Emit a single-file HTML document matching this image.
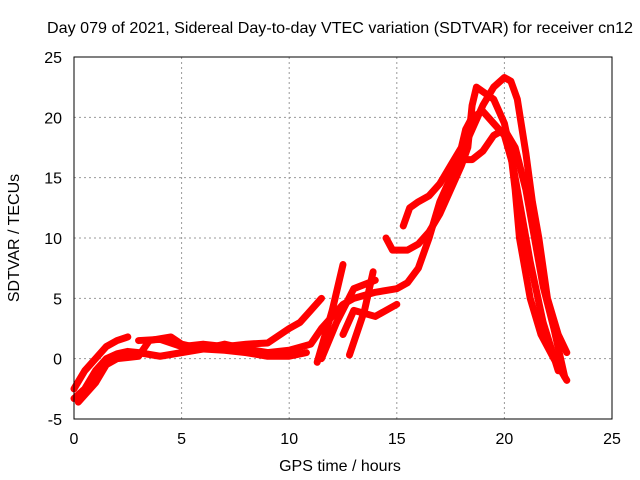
<!DOCTYPE html>
<html><head><meta charset="utf-8"><style>
body{margin:0;background:#fff}
svg{display:block;font-family:"Liberation Sans",sans-serif}
</style></head><body>
<svg id="c" width="640" height="480" xmlns="http://www.w3.org/2000/svg">
<text x="340" y="33" text-anchor="middle" font-size="16" textLength="586" lengthAdjust="spacingAndGlyphs">Day 079 of 2021, Sidereal Day-to-day VTEC variation (SDTVAR) for receiver cn12</text>
<text x="340" y="471" text-anchor="middle" font-size="16">GPS time / hours</text>
<text x="19" y="238" text-anchor="middle" font-size="16" transform="rotate(-90 19 238)">SDTVAR / TECUs</text>
<g id="grid"></g><g id="marks"></g>
<rect x="74" y="57" width="538" height="362" fill="none" stroke="#000"/>
</svg>
<script>
const xTicks=[0,5,10,15,20,25];
const yTicks=[-5,0,5,10,15,20,25];
const s1=[[0,-3.3],[0.5,-2.5],[1,-1],[1.5,0],[2,0.4],[2.5,0.6],[3,0.5],[4,0.2],[5,0.5],[6,0.8],[7,1.2],[8,0.8],[9,0.5],[10,0.7],[11,1.2],[11.5,2.5],[12,3.5],[12.5,4.5],[13,5],[14,5.5],[15,5.8],[15.5,6.3],[16,7.5],[16.5,10],[17,13],[17.5,15],[18,17],[18.5,19],[19,21],[19.5,22.5],[20,23.3],[20.3,23],[20.6,21.5],[21,17],[21.3,13],[21.6,10],[22,5],[22.5,2],[22.9,0.5]];
const s2=[[0,-2.5],[0.5,-1],[1,0],[1.5,1],[2,1.5],[2.5,1.8]];
const s3=[[3,1.5],[4,1.6],[5,1],[6,1.2],[7,1],[8,1.2],[9,1.3],[10,2.5],[10.5,3],[11,4],[11.5,5]];
const s4=[[0.2,-3.6],[1,-2],[1.5,-0.5],[2,0],[3,0.2],[3.5,1.5],[4.5,1.8],[5,1.2],[6,0.8],[7,0.7],[8,0.5],[9,0.2],[10,0.2],[10.8,0.5]];
const s5=[[14.5,10],[14.8,9],[15.5,9],[16,9.5],[16.5,10.5],[17,12],[17.5,14],[18,16],[18.3,17.5],[18.5,21],[18.7,22.5],[19.5,21.5],[20,19.5],[20.3,17],[20.5,14],[20.7,10],[21.2,5],[21.7,2],[22.3,0],[22.9,-1.8]];
const s6=[[15.3,11],[15.6,12.5],[16,13],[16.5,13.5],[17,14.5],[17.5,16],[18,17.5],[18.2,19],[18.5,20],[19,20.5],[19.5,19.5],[20,18.5],[20.4,16],[20.8,12],[21.2,8],[21.8,3],[22.5,-1]];
const s7=[[17.8,16.5],[18.5,16.5],[19,17.2],[19.5,18.5],[20,19],[20.5,17.5],[21,14],[21.4,10],[21.8,6],[22.3,2.5],[22.8,-1.5]];
const s8=[[11.3,-0.3],[12,4],[12.5,7.8]];
const s9=[[12.8,0.3],[13.5,4],[13.9,7.2]];
const s10=[[12.5,2],[13,4],[14,3.5],[15,4.5]];
const s11=[[11.5,0],[12.2,3],[13,5.8],[14,6.5]];
const series=[s1,s2,s3,s4,s5,s6,s7,s8,s9,s10,s11];
const X=v=>74+v*538/25, Y=v=>419-(v+5)*362/30;
const NS="http://www.w3.org/2000/svg",svg=document.getElementById('c');
const g=document.getElementById('grid'),m=document.getElementById('marks');
xTicks.forEach(t=>{
 const l=document.createElementNS(NS,'line');
 l.setAttribute('x1',X(t));l.setAttribute('x2',X(t));l.setAttribute('y1',57);l.setAttribute('y2',419);
 l.setAttribute('stroke','#999');l.setAttribute('stroke-dasharray','2,3');
 
 
 g.appendChild(l);
 const tx=document.createElementNS(NS,'text');
 tx.setAttribute('x',X(t));tx.setAttribute('y',444);tx.setAttribute('text-anchor','middle');tx.setAttribute('font-size','16');
 tx.textContent=t;
 
 
 g.appendChild(tx);
});
yTicks.forEach(t=>{
 const l=document.createElementNS(NS,'line');
 l.setAttribute('x1',74);l.setAttribute('x2',612);l.setAttribute('y1',Y(t));l.setAttribute('y2',Y(t));
 l.setAttribute('stroke','#999');l.setAttribute('stroke-dasharray','2,3');
 
 
 g.appendChild(l);
 const tx=document.createElementNS(NS,'text');
 tx.setAttribute('x',62);tx.setAttribute('y',Y(t)+6);tx.setAttribute('text-anchor','end');tx.setAttribute('font-size','16');
 tx.textContent=t;
 
 
 g.appendChild(tx);
});
series.forEach(s=>{
 const p=document.createElementNS(NS,'polyline');
 p.setAttribute('points',s.map(d=>X(d[0])+','+Y(d[1])).join(' '));
 p.setAttribute('fill','none');p.setAttribute('stroke','#f00');p.setAttribute('stroke-width','7');
 p.setAttribute('stroke-linejoin','round');p.setAttribute('stroke-linecap','round');
 
 
 m.appendChild(p);
});
</script>
</body></html>
